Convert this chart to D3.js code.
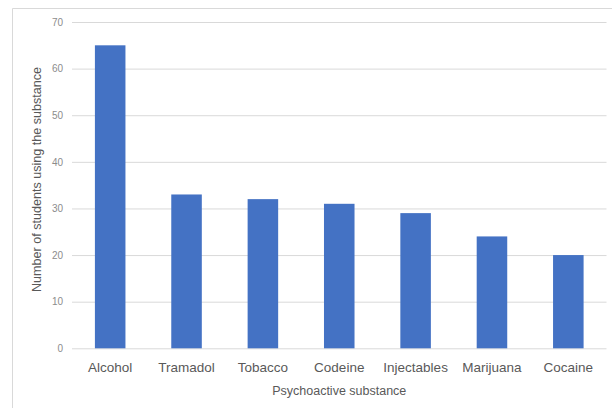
<!DOCTYPE html>
<html><head><meta charset="utf-8">
<script src="https://cdn.jsdelivr.net/npm/d3@7"></script>
<style>body{margin:0;background:#fff}svg{display:block}</style>
</head><body>
<script>
const categories = ["Alcohol","Tramadol","Tobacco","Codeine","Injectables","Marijuana","Cocaine"];
const values = [65,33,32,31,29,24,20];
const yTicks = [0,10,20,30,40,50,60,70];
const xTitle = "Psychoactive substance";
const yTitle = "Number of students using the substance";

(function(){
const W=612,H=408;
const svg=d3.select("body").append("svg").attr("width",W).attr("height",H);
const font="'Liberation Sans', Arial, sans-serif";
svg.append("path").attr("d",`M12.5,${H+2}V8.5H${W+2}`).attr("fill","none").attr("stroke","#d9d9d9").attr("stroke-width",1);

const pl=72,pr=606.5,pt=22,pb=348.3;
const x=d3.scaleBand().domain(categories).range([pl,pr]).paddingInner(0.6).paddingOuter(0.3);
const y=d3.scaleLinear().domain([0,70]).range([pb,pt]);

const yAxis=svg.append("g").attr("transform",`translate(${pl},0)`)
  .call(d3.axisLeft(y).tickValues(yTicks).tickSize(-(pr-pl)).tickPadding(9));
yAxis.select(".domain").remove();
yAxis.selectAll(".tick line").attr("stroke","#d9d9d9").attr("stroke-width",1);
yAxis.selectAll(".tick text").attr("fill","#8c8c8c").style("font-family",font).style("font-size","10px");

svg.append("g").selectAll("rect").data(categories).join("rect")
  .attr("x",d=>x(d)).attr("width",x.bandwidth())
  .attr("y",(d,i)=>y(values[i])).attr("height",(d,i)=>y(0)-y(values[i]))
  .attr("fill","#4472c4");

const xAxis=svg.append("g").attr("transform",`translate(0,${pb})`)
  .call(d3.axisBottom(x).tickSize(0).tickPadding(14));
xAxis.select(".domain").remove();
xAxis.selectAll(".tick text").attr("fill","#595959").style("font-family",font).style("font-size","13.5px");

svg.append("text").attr("x",(pl+pr)/2).attr("y",395).attr("text-anchor","middle")
  .attr("fill","#595959").style("font-family",font).style("font-size","12.5px").text(xTitle);
svg.append("text").attr("transform",`translate(41,${(67+292)/2}) rotate(-90)`).attr("text-anchor","middle")
  .attr("fill","#595959").style("font-family",font).style("font-size","12.5px")
  .attr("textLength",225).attr("lengthAdjust","spacingAndGlyphs").text(yTitle);
})();
</script>
</body></html>
